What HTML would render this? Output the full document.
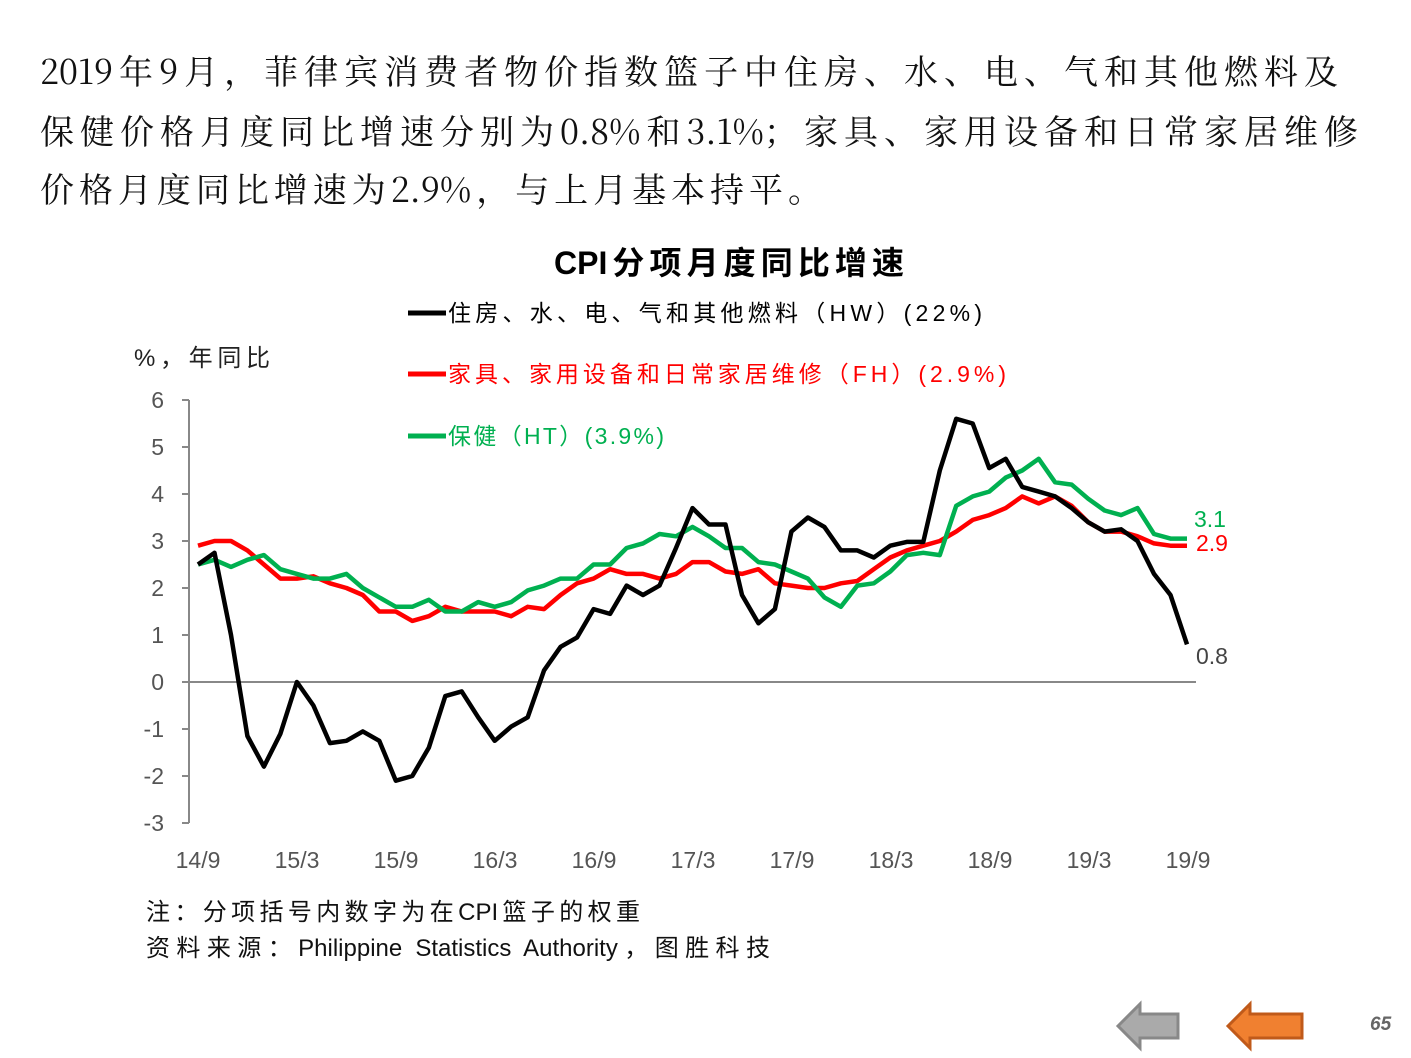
<!DOCTYPE html>
<html><head><meta charset="utf-8"><style>
body{margin:0;width:1411px;height:1058px;background:#fff;overflow:hidden;position:relative;font-family:"Liberation Sans","Noto Sans CJK SC",sans-serif}
.h{position:absolute;left:40px;font-family:"Noto Serif CJK SC","Liberation Serif",serif;font-size:34px;color:#111;white-space:nowrap;text-align:justify;text-align-last:justify;line-height:40px}
.t{position:absolute;white-space:nowrap}
.j{text-align:justify;text-align-last:justify}
</style></head><body>
<div class="h" style="top:50px;width:1298px">2019年9月，菲律宾消费者物价指数篮子中住房、水、电、气和其他燃料及</div>
<div class="h" style="top:110px;width:1318px">保健价格月度同比增速分别为0.8%和3.1%；家具、家用设备和日常家居维修</div>
<div class="h" style="top:168px;width:782px">价格月度同比增速为2.9%，与上月基本持平。</div>
<div class="t j" style="left:554px;top:238px;width:350px;font-size:32px;font-weight:bold;color:#000">CPI分项月度同比增速</div>
<div class="t j" style="left:134px;top:338px;width:136px;font-size:24px;color:#222">%，年同比</div>
<div class="t j" style="left:146px;top:892px;width:494px;font-size:24px;color:#111">注：分项括号内数字为在CPI篮子的权重</div>
<div class="t j" style="left:146px;top:928px;width:624px;font-size:24px;color:#111">资料来源：Philippine Statistics Authority，图胜科技</div>
<div class="t" style="left:1370px;top:1014px;font-size:19px;font-weight:bold;font-style:italic;color:#666">65</div>
<svg width="1411" height="1058" style="position:absolute;left:0;top:0" id="s">
<g stroke="#888" stroke-width="2">
<line x1="189" y1="400" x2="189" y2="823"/>
<line x1="189" y1="682" x2="1196" y2="682"/>
</g>
<g id="ticks" stroke="#888" stroke-width="2"></g>
<g font-size="23" fill="#555" text-anchor="end" font-family="Liberation Sans, sans-serif" id="yl"></g>
<g font-size="23" fill="#555" text-anchor="middle" font-family="Liberation Sans, sans-serif">
<text x="198" y="868">14/9</text><text x="297" y="868">15/3</text><text x="396" y="868">15/9</text><text x="495" y="868">16/3</text><text x="594" y="868">16/9</text><text x="693" y="868">17/3</text><text x="792" y="868">17/9</text><text x="891" y="868">18/3</text><text x="990" y="868">18/9</text><text x="1089" y="868">19/3</text><text x="1188" y="868">19/9</text>
</g>
<g font-size="23" font-family="Liberation Sans, Noto Sans CJK SC, sans-serif">
<line x1="408" y1="313" x2="446" y2="313" stroke="#000" stroke-width="5"/>
<text x="448" y="321" fill="#000" textLength="534" lengthAdjust="spacing">住房、水、电、气和其他燃料（HW）(22%)</text>
<line x1="408" y1="374" x2="446" y2="374" stroke="#f00" stroke-width="5"/>
<text x="448" y="382" fill="#f00" textLength="558" lengthAdjust="spacing">家具、家用设备和日常家居维修（FH）(2.9%)</text>
<line x1="408" y1="436" x2="446" y2="436" stroke="#00b050" stroke-width="5"/>
<text x="448" y="444" fill="#00b050" textLength="216" lengthAdjust="spacing">保健（HT）(3.9%)</text>
<text x="1194" y="527" fill="#00b050">3.1</text>
<text x="1196" y="551" fill="#f00">2.9</text>
<text x="1196" y="664" fill="#444">0.8</text>
</g>
<g id="lines" fill="none" stroke-width="4.5" stroke-linejoin="round"></g>
<polygon points="1118,1026 1140,1004 1140,1014 1178,1014 1178,1038 1140,1038 1140,1048" fill="#aaa" stroke="#888" stroke-width="3"/>
<polygon points="1228,1026 1250,1004 1250,1014 1302,1014 1302,1038 1250,1038 1250,1048" fill="#f08030" stroke="#c05a1a" stroke-width="3"/>
</svg>
<script>
var Y=function(v){return 682-47*v};
var t='',yl='';
for(var v=-3;v<=6;v++){t+='<line x1="182" y1="'+Y(v)+'" x2="189" y2="'+Y(v)+'"/>';yl+='<text x="164" y="'+(Y(v)+8)+'">'+v+'</text>';}
document.getElementById('ticks').innerHTML=t;document.getElementById('yl').innerHTML=yl;
var hw=[2.5,2.75,1.0,-1.15,-1.8,-1.1,0,-0.5,-1.3,-1.25,-1.05,-1.25,-2.1,-2.0,-1.4,-0.3,-0.2,-0.75,-1.25,-0.95,-0.75,0.25,0.75,0.95,1.55,1.45,2.05,1.85,2.05,2.85,3.7,3.35,3.35,1.85,1.25,1.55,3.2,3.5,3.3,2.8,2.8,2.65,2.9,2.98,2.98,4.5,5.6,5.5,4.55,4.75,4.15,4.05,3.95,3.7,3.4,3.2,3.25,3.0,2.3,1.85,0.8];
var fh=[2.9,3.0,3.0,2.8,2.5,2.2,2.2,2.25,2.1,2.0,1.85,1.5,1.5,1.3,1.4,1.6,1.5,1.5,1.5,1.4,1.6,1.55,1.85,2.1,2.2,2.4,2.3,2.3,2.2,2.3,2.55,2.55,2.35,2.3,2.4,2.1,2.05,2.0,2.0,2.1,2.15,2.4,2.65,2.8,2.9,3.0,3.2,3.45,3.55,3.7,3.95,3.8,3.95,3.75,3.4,3.2,3.2,3.1,2.95,2.9,2.9];
var ht=[2.5,2.6,2.45,2.6,2.7,2.4,2.3,2.2,2.2,2.3,2.0,1.8,1.6,1.6,1.75,1.5,1.5,1.7,1.6,1.7,1.95,2.05,2.2,2.2,2.5,2.5,2.85,2.95,3.15,3.1,3.3,3.1,2.85,2.85,2.55,2.5,2.35,2.2,1.8,1.6,2.05,2.1,2.35,2.7,2.75,2.7,3.75,3.95,4.05,4.35,4.5,4.75,4.25,4.2,3.9,3.65,3.55,3.7,3.15,3.05,3.05];
function pl(a,c){var n=a.length,p=[];for(var i=0;i<n;i++)p.push((198+989*i/(n-1)).toFixed(1)+','+Y(a[i]).toFixed(1));return '<polyline stroke="'+c+'" points="'+p.join(' ')+'"/>';}
document.getElementById('lines').innerHTML=pl(fh,'#f00')+pl(ht,'#00b050')+pl(hw,'#000');
</script>
</body></html>
